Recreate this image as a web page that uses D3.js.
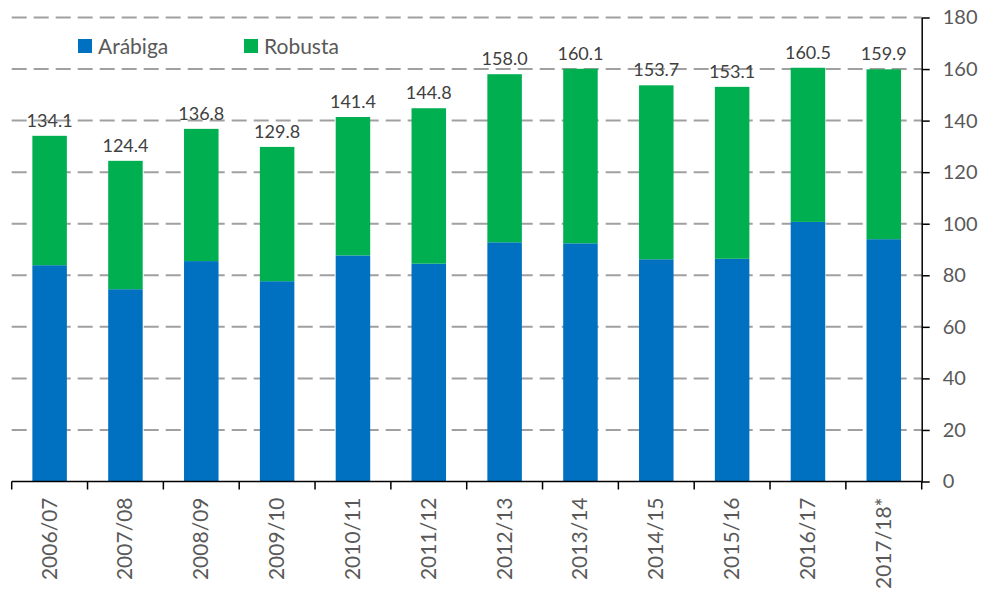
<!DOCTYPE html>
<html>
<head>
<meta charset="utf-8">
<script src="https://cdn.jsdelivr.net/npm/d3@7"></script>
<style>
  html, body { margin: 0; padding: 0; background: #fff; }
  svg { display: block; }
</style>
</head>
<body>
<svg id="chart" width="982" height="591"></svg>
<script>
const categories = ["2006/07","2007/08","2008/09","2009/10","2010/11","2011/12","2012/13","2013/14","2014/15","2015/16","2016/17","2017/18*"];
const arabica = [83.9, 74.6, 85.5, 77.7, 87.7, 84.5, 92.8, 92.4, 86.2, 86.4, 100.7, 94.0];
const robusta = [50.2, 49.8, 51.3, 52.1, 53.7, 60.3, 65.2, 67.7, 67.5, 66.7, 59.8, 65.9];
const seriesNames = ["Arábiga", "Robusta"];
const yTicks = [0, 20, 40, 60, 80, 100, 120, 140, 160, 180];

(function () {
const colors = { "Arábiga": "#0070C0", "Robusta": "#00B050" };
const font = "Lato, 'Open Sans', sans-serif";

const svg = d3.select("#chart");
const pLeft = 11.7, pRight = 921.7, pTop = 17.5, pBottom = 481.5;

const x = d3.scaleBand().domain(categories).range([pLeft, pRight])
  .paddingInner(0.545).paddingOuter(0.2725);
const y = d3.scaleLinear().domain([0, 180]).range([pBottom, pTop]);

// gridlines
svg.append("g").selectAll("line")
  .data(yTicks.filter(d => d > 0))
  .join("line")
  .attr("x1", pLeft).attr("x2", pRight)
  .attr("y1", d => y(d)).attr("y2", d => y(d))
  .attr("stroke", "#a0a0a0").attr("stroke-width", 2)
  .attr("stroke-dasharray", "15,7");

// stacked bars
const rows = categories.map((c, i) => ({ cat: c, "Arábiga": arabica[i], "Robusta": robusta[i] }));
const stacked = d3.stack().keys(seriesNames)(rows);

svg.append("g").selectAll("g")
  .data(stacked)
  .join("g")
  .attr("fill", d => colors[d.key])
  .selectAll("rect")
  .data(d => d)
  .join("rect")
  .attr("x", d => x(d.data.cat))
  .attr("width", x.bandwidth())
  .attr("y", d => y(d[1]))
  .attr("height", d => y(d[0]) - y(d[1]));

// total labels
svg.append("g").selectAll("text")
  .data(rows)
  .join("text")
  .attr("x", d => x(d.cat) + x.bandwidth() / 2)
  .attr("y", d => y(d["Arábiga"] + d["Robusta"]) - 9)
  .attr("text-anchor", "middle")
  .attr("font-family", font).attr("font-size", 18)
  .attr("fill", "#404040")
  .text(d => (d["Arábiga"] + d["Robusta"]).toFixed(1));

// x axis
const xAxisG = svg.append("g");
xAxisG.append("line")
  .attr("x1", pLeft).attr("x2", pRight)
  .attr("y1", pBottom).attr("y2", pBottom)
  .attr("stroke", "#000").attr("stroke-width", 1.5);
const step = x.step();
const boundaries = categories.map(c => x(c) - (step - x.bandwidth()) / 2).concat([pRight]);
xAxisG.selectAll("line.tick")
  .data(boundaries)
  .join("line")
  .attr("class", "tick")
  .attr("x1", d => d).attr("x2", d => d)
  .attr("y1", pBottom).attr("y2", pBottom + 8)
  .attr("stroke", "#000").attr("stroke-width", 1.5);
xAxisG.selectAll("text")
  .data(categories)
  .join("text")
  .attr("transform", d => `translate(${x(d) + x.bandwidth() / 2 + 7},${pBottom + 16}) rotate(-90)`)
  .attr("text-anchor", "end")
  .attr("font-family", font).attr("font-size", 21)
  .attr("fill", "#595959")
  .text(d => d);

// y axis (right)
const yAxis = d3.axisRight(y).tickValues(yTicks).tickSize(8).tickPadding(13).tickSizeOuter(0);
const yG = svg.append("g").attr("transform", `translate(${pRight},0)`).call(yAxis);
yG.select(".domain").attr("stroke", "#000").attr("stroke-width", 1.5);
yG.selectAll(".tick line").attr("stroke", "#000").attr("stroke-width", 1.5);
yG.selectAll(".tick text")
  .attr("font-family", font).attr("font-size", 20)
  .attr("fill", "#595959");

// legend
const legendPos = [78, 244];
const lg = svg.append("g").selectAll("g")
  .data(seriesNames)
  .join("g")
  .attr("transform", (d, i) => `translate(${legendPos[i]},39)`);
lg.append("rect").attr("width", 14).attr("height", 14).attr("fill", d => colors[d]);
lg.append("text")
  .attr("x", 20).attr("y", 7).attr("dy", "0.36em")
  .attr("font-family", font).attr("font-size", 21)
  .attr("fill", "#595959")
  .text(d => d);
})();
</script>
</body>
</html>
